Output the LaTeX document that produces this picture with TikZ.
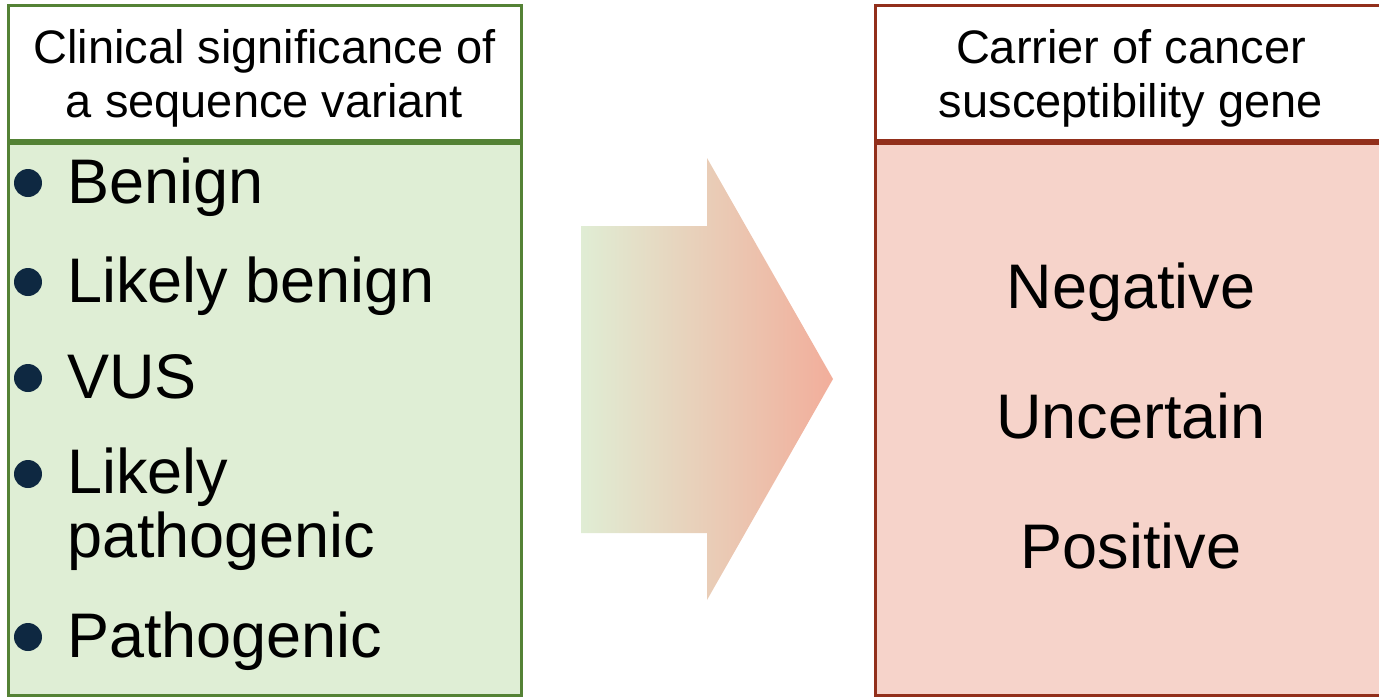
\documentclass[tikz,border=0pt]{standalone}
\usepackage{fontspec}
\setmainfont{Liberation Sans}
\definecolor{leafline}{HTML}{548235}
\definecolor{leaffill}{HTML}{DFEED5}
\definecolor{rustline}{HTML}{922F1B}
\definecolor{rustfill}{HTML}{F6D3CA}
\definecolor{dotcol}{HTML}{0E2841}
\definecolor{arrowleft}{HTML}{E0EDD4}
\definecolor{arrowmid}{HTML}{EAD9C3}
\definecolor{arrowright}{HTML}{F2AE9B}
\begin{document}
\begin{tikzpicture}[x=1pt, y=-1pt,
	boxline/.style={line width=3pt},
	headtext/.style={inner sep=0pt, align=center, font=\fontsize{47}{54}\selectfont},
	itemtext/.style={inner sep=0pt, anchor=base west, font=\fontsize{63}{64}\selectfont},
	resulttext/.style={inner sep=0pt, anchor=base, font=\fontsize{63}{64}\selectfont}]

	\useasboundingbox (0,0) rectangle (1379,697);
	\clip (0,0) rectangle (1379,697);

	\draw[boxline, leafline, fill=white] (8,5) rectangle (521,140);
	\draw[boxline, leafline, fill=leaffill] (8,143) rectangle (521,695);
	\node[headtext] (lefthead) at (264.5,78) {Clinical significance of\\a sequence variant};

	\fill[dotcol] (28,183) circle (14pt);
	\fill[dotcol] (28,282) circle (14pt);
	\fill[dotcol] (28,378) circle (14pt);
	\fill[dotcol] (28,474) circle (14pt);
	\fill[dotcol] (28,637) circle (14pt);

	\node[itemtext] (benign) at (67,203) {Benign};
	\node[itemtext] (likelyb) at (67,302) {Likely benign};
	\node[itemtext] (vus) at (67,398) {VUS};
	\node[itemtext, anchor=north west, align=left] (likelyp) at (67,448) {Likely\\pathogenic};
	\node[itemtext] (patho) at (67,657) {Pathogenic};

	\shade[left color=arrowleft, middle color=arrowmid, right color=arrowright]
		(581,226) -- (707,226) -- (707,158) -- (833,379) -- (707,600) -- (707,533) -- (581,533) -- cycle;

	\draw[boxline, rustline, fill=white] (875,5) rectangle (1388,140);
	\draw[boxline, rustline, fill=rustfill] (875,143) rectangle (1388,695);
	\node[headtext] (righthead) at (1131,78) {Carrier of cancer\\susceptibility gene};

	\node[resulttext] (neg) at (1131,308) {Negative};
	\node[resulttext] (unc) at (1131,438) {Uncertain};
	\node[resulttext] (pos) at (1131,568) {Positive};
\end{tikzpicture}
\end{document}
